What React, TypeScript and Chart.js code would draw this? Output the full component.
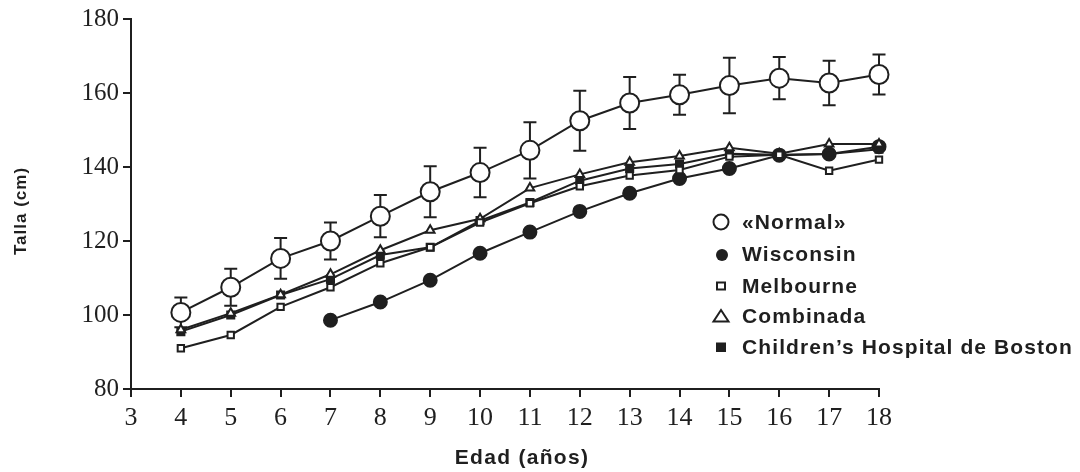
import React, { useEffect, useRef } from "react";
import { Chart, registerables } from "chart.js";

Chart.register(...registerables);

const ages = [4, 5, 6, 7, 8, 9, 10, 11, 12, 13, 14, 15, 16, 17, 18];
const normal = [100.7, 107.5, 115.3, 120, 126.7, 133.3, 138.5, 144.5, 152.5, 157.3, 159.5, 162, 164, 162.7, 165];
const normalSd = [4, 5, 5.5, 5, 5.7, 6.9, 6.7, 7.6, 8.1, 7, 5.4, 7.5, 5.7, 6, 5.4];
const wisconsin = [null, null, null, 98.6, 103.5, 109.4, 116.7, 122.4, 128, 132.9, 136.9, 139.6, 143.2, 143.5, 145.5];
const melbourne = [91, 94.6, 102.2, 107.5, 114, 118.3, 125, 130.2, 134.8, 137.7, 139.2, 142.8, 143.3, 139, 142];
const combinada = [96, 100.5, 105.5, 111, 117.5, 122.9, 126, 134.3, 138, 141.3, 143, 145.2, 143.6, 146.2, 146.2];
const boston = [95.5, 100, 105.4, 109.7, 116.2, 118.3, 125.5, 130.4, 136.3, 139.6, 140.8, 143.6, 143.3, 143.5, 144.8];

const legendLabels = ["«Normal»", "Wisconsin", "Melbourne", "Combinada", "Children’s Hospital de Boston"];
const xTitle = "Edad (años)";
const yTitle = "Talla (cm)";
const yTicks = [80, 100, 120, 140, 160, 180];

const INK = "#1f1f1f";

function pts(values: (number | null)[]) {
  return ages.map((a, i) => ({ x: a, y: values[i] }));
}

const overlayPlugin = {
  id: "overlay",
  beforeDatasetsDraw(chart: any) {
    const ctx = chart.ctx;
    const xs = chart.scales.x;
    const ys = chart.scales.y;
    ctx.save();
    ctx.strokeStyle = INK;
    ctx.lineWidth = 2;
    ages.forEach((a, i) => {
      const x = xs.getPixelForValue(a);
      const top = ys.getPixelForValue(normal[i] + normalSd[i]);
      const bot = ys.getPixelForValue(normal[i] - normalSd[i]);
      ctx.beginPath();
      ctx.moveTo(x, top);
      ctx.lineTo(x, bot);
      ctx.moveTo(x - 6.5, top);
      ctx.lineTo(x + 6.5, top);
      ctx.moveTo(x - 6.5, bot);
      ctx.lineTo(x + 6.5, bot);
      ctx.stroke();
    });
    ctx.restore();
  },
  afterDraw(chart: any) {
    const ctx = chart.ctx;
    ctx.save();
    ctx.fillStyle = INK;
    ctx.strokeStyle = INK;
    // axis titles
    ctx.font = 'bold 21px "Liberation Sans"';
    (ctx as any).letterSpacing = "1.3px";
    ctx.textAlign = "center";
    ctx.textBaseline = "middle";
    ctx.fillText(xTitle, 522, 458);
    ctx.save();
    ctx.translate(21, 211);
    ctx.rotate(-Math.PI / 2);
    ctx.font = 'bold 17px "Liberation Sans"';
    (ctx as any).letterSpacing = "1px";
    ctx.fillText(yTitle, 0, 0);
    ctx.restore();

    // legend
    const mx = 721;
    const tx = 742;
    const rows = [222, 254, 286, 316, 347];
    ctx.lineWidth = 2;
    ctx.beginPath();
    ctx.arc(mx, rows[0], 7.5, 0, Math.PI * 2);
    ctx.fillStyle = "#fff";
    ctx.fill();
    ctx.stroke();
    ctx.fillStyle = INK;
    ctx.beginPath();
    ctx.arc(mx + 1, rows[1] + 1, 6, 0, Math.PI * 2);
    ctx.fill();
    ctx.strokeRect(mx - 4, rows[2] - 3.5, 8, 7);
    ctx.beginPath();
    ctx.moveTo(mx, rows[3] - 6);
    ctx.lineTo(mx + 7.5, rows[3] + 5.5);
    ctx.lineTo(mx - 7.5, rows[3] + 5.5);
    ctx.closePath();
    ctx.stroke();
    ctx.fillRect(mx - 5, rows[4] - 4.5, 10, 9.5);

    ctx.font = 'bold 21px "Liberation Sans"';
    (ctx as any).letterSpacing = "1.1px";
    ctx.textAlign = "left";
    ctx.textBaseline = "middle";
    legendLabels.forEach((l, i) => ctx.fillText(l, tx, rows[i] + 1));
    ctx.restore();
  },
};

export default function App() {
  const ref = useRef<HTMLCanvasElement | null>(null);
  useEffect(() => {
    if (!ref.current) return;
    const common = {
      borderColor: INK,
      borderWidth: 2,
      pointBorderColor: INK,
      pointBorderWidth: 2,
      tension: 0,
      spanGaps: false,
      fill: false,
      clip: false,
    };
    const chart = new Chart(ref.current, {
      type: "line",
      data: {
        datasets: [
          { ...common, label: legendLabels[2], data: pts(melbourne), pointStyle: "rect", pointRadius: 4.5, pointBackgroundColor: "#fff" },
          { ...common, label: legendLabels[3], data: pts(combinada), pointStyle: "triangle", pointRadius: 5, pointBackgroundColor: "#fff" },
          { ...common, label: legendLabels[4], data: pts(boston), pointStyle: "rect", pointRadius: 5, pointBackgroundColor: INK },
          { ...common, label: legendLabels[1], data: pts(wisconsin), pointStyle: "circle", pointRadius: 6.5, pointBackgroundColor: INK },
          { ...common, label: legendLabels[0], data: pts(normal), pointStyle: "circle", pointRadius: 9.5, pointBackgroundColor: "#fff" },
        ],
      } as any,
      options: {
        responsive: false,
        animation: false,
        events: [],
        layout: { padding: { top: 18, right: 201, left: 0, bottom: 0 } },
        plugins: { legend: { display: false }, tooltip: { enabled: false } },
        scales: {
          x: {
            type: "linear",
            min: 3,
            max: 18,
            afterFit: (s: any) => { s.height = 83; },
            ticks: {
              stepSize: 1,
              color: INK,
              padding: 6,
              font: { family: '"Liberation Serif"', size: 26 },
            },
            grid: { display: true, drawOnChartArea: false, drawTicks: true, tickLength: 8, color: INK, lineWidth: 2 },
            border: { display: true, color: INK, width: 2 },
          },
          y: {
            type: "linear",
            min: 80,
            max: 180,
            afterFit: (s: any) => { s.width = 131; },
            afterBuildTicks: (s: any) => { s.ticks = yTicks.map((v) => ({ value: v })); },
            ticks: {
              color: INK,
              padding: 4,
              font: { family: '"Liberation Serif"', size: 25 },
            },
            grid: { display: true, drawOnChartArea: false, drawTicks: true, tickLength: 8, color: INK, lineWidth: 2 },
            border: { display: true, color: INK, width: 2 },
          },
        },
      } as any,
      plugins: [overlayPlugin],
    });
    return () => chart.destroy();
  }, []);
  return (
    <div style={{ position: "fixed", left: 0, top: 0, width: 1080, height: 472, background: "#fff" }}>
      <canvas ref={ref} width={1080} height={472} style={{ display: "block" }} />
    </div>
  );
}
